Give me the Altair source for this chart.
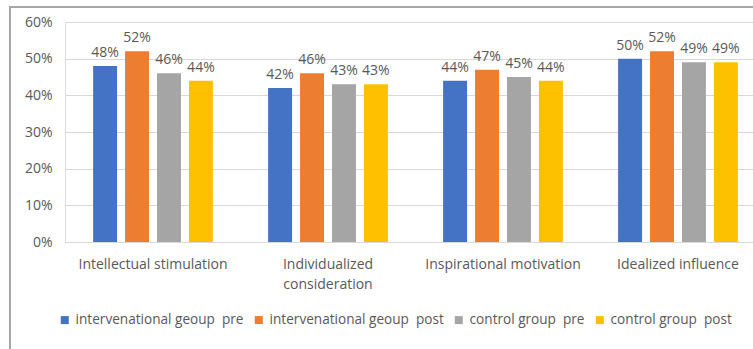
import altair as alt
import pandas as pd

categories = ["Intellectual stimulation", "Individualized consideration",
              "Inspirational motivation", "Idealized influence"]
series = ["intervenational geoup\u00a0 pre", "intervenational geoup\u00a0 post",
          "control group\u00a0 pre", "control group\u00a0 post"]
values = {
    series[0]: [0.48, 0.42, 0.44, 0.50],
    series[1]: [0.52, 0.46, 0.47, 0.52],
    series[2]: [0.46, 0.43, 0.45, 0.49],
    series[3]: [0.44, 0.43, 0.44, 0.49],
}
colors = ["#4472C4", "#ED7D31", "#A5A5A5", "#FFC000"]

rows = []
for s in series:
    for c, v in zip(categories, values[s]):
        rows.append({"category": c, "series": s, "value": v})
df = pd.DataFrame(rows)

FONT = "Open Sans"
TXT = "#595959"

x_enc = alt.X("category:N", sort=categories, title=None,
              scale=alt.Scale(range=[0, 701], paddingInner=0.27, paddingOuter=0.138),
              axis=alt.Axis(labelAngle=0, ticks=False, domainColor="#d9d9d9",
                            labelFont=FONT, labelFontSize=14, labelColor=TXT,
                            labelPadding=15, labelLimit=300, labelLineHeight=20,
                            labelExpr="datum.value == 'Individualized consideration' ? ['Individualized', 'consideration'] : datum.value"))
xo = alt.XOffset("series:N", sort=series,
                 scale=alt.Scale(paddingInner=0.25, paddingOuter=0.125))
y_enc = alt.Y("value:Q", title=None,
              scale=alt.Scale(domain=[0, 0.6], nice=False),
              axis=alt.Axis(format=".0%", values=[0, 0.1, 0.2, 0.3, 0.4, 0.5, 0.6],
                            domain=False, ticks=False, gridColor="#d9d9d9",
                            labelFont=FONT, labelFontSize=14, labelColor=TXT,
                            labelPadding=13))

base = alt.Chart(df)

bars = base.mark_bar().encode(
    x=x_enc, xOffset=xo, y=y_enc,
    color=alt.Color("series:N", sort=series,
                    scale=alt.Scale(domain=series, range=colors),
                    legend=alt.Legend(title=None, orient="none", direction="horizontal",
                                      columns=4, legendX=-7, legendY=291,
                                      symbolType="square", symbolSize=64,
                                      symbolStrokeWidth=0,
                                      labelFont=FONT, labelFontSize=13.6,
                                      labelColor=TXT, labelLimit=300,
                                      columnPadding=8, labelOffset=4)),
)

labels = base.mark_text(baseline="bottom", dy=-6, font=FONT, fontSize=14,
                        color=TXT).encode(
    x=x_enc, xOffset=xo, y=y_enc,
    text=alt.Text("value:Q", format=".0%"),
)

frame = alt.Chart(pd.DataFrame({"a": [0]})).mark_rect(
    fill=None, stroke="#a6a6a6", strokeWidth=2
).encode(x=alt.value(-55), x2=alt.value(720), y=alt.value(-15), y2=alt.value(400))

chart = alt.layer(frame, bars, labels).properties(
    width=688, height=220,
    autosize=alt.AutoSizeParams(type="none"),
    padding={"left": 65, "top": 22, "right": 0, "bottom": 107},
).configure_view(stroke=None).configure(background="white")

chart.save("out.html", embed_options={"renderer": "svg", "actions": False})
